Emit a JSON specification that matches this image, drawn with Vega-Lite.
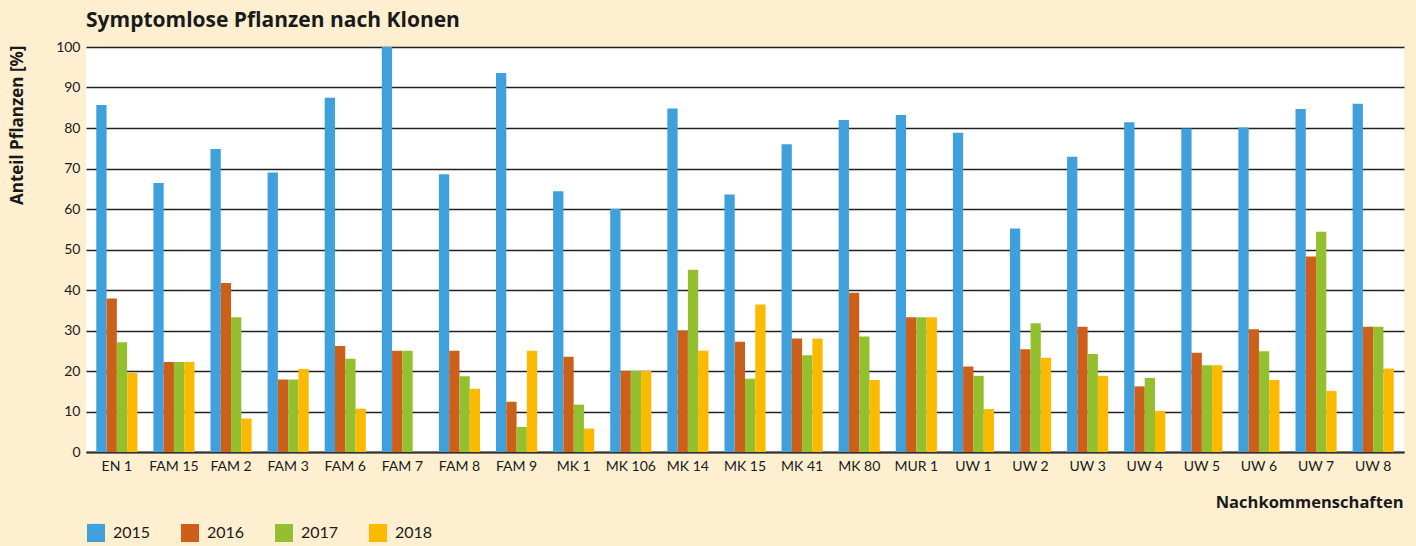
{
  "$schema": "https://vega.github.io/schema/vega-lite/v6.json",
  "autosize": "none",
  "padding": {"left": 86, "top": 47, "right": 12, "bottom": 94},
  "width": 1318,
  "height": 405,
  "background": "#fdefd0",
  "view": {"fill": "white", "stroke": null},
  "title": {"text": "Symptomlose Pflanzen nach Klonen", "anchor": "start", "frame": "group", "font": "Open Sans", "fontSize": 21, "fontWeight": "bold", "color": "#1a1a1a", "offset": 9},
  "config": {"font": "Lato"},
  "data": {"values": [
    {"k": "EN 1", "year": "2015", "v": 85.7}, {"k": "EN 1", "year": "2016", "v": 37.9}, {"k": "EN 1", "year": "2017", "v": 27.1}, {"k": "EN 1", "year": "2018", "v": 19.5},
    {"k": "FAM 15", "year": "2015", "v": 66.4}, {"k": "FAM 15", "year": "2016", "v": 22.2}, {"k": "FAM 15", "year": "2017", "v": 22.2}, {"k": "FAM 15", "year": "2018", "v": 22.2},
    {"k": "FAM 2", "year": "2015", "v": 74.8}, {"k": "FAM 2", "year": "2016", "v": 41.7}, {"k": "FAM 2", "year": "2017", "v": 33.3}, {"k": "FAM 2", "year": "2018", "v": 8.3},
    {"k": "FAM 3", "year": "2015", "v": 69.0}, {"k": "FAM 3", "year": "2016", "v": 17.9}, {"k": "FAM 3", "year": "2017", "v": 17.9}, {"k": "FAM 3", "year": "2018", "v": 20.5},
    {"k": "FAM 6", "year": "2015", "v": 87.5}, {"k": "FAM 6", "year": "2016", "v": 26.2}, {"k": "FAM 6", "year": "2017", "v": 23.0}, {"k": "FAM 6", "year": "2018", "v": 10.7},
    {"k": "FAM 7", "year": "2015", "v": 100}, {"k": "FAM 7", "year": "2016", "v": 25.0}, {"k": "FAM 7", "year": "2017", "v": 25.0}, {"k": "FAM 7", "year": "2018", "v": 0},
    {"k": "FAM 8", "year": "2015", "v": 68.6}, {"k": "FAM 8", "year": "2016", "v": 25.0}, {"k": "FAM 8", "year": "2017", "v": 18.7}, {"k": "FAM 8", "year": "2018", "v": 15.6},
    {"k": "FAM 9", "year": "2015", "v": 93.6}, {"k": "FAM 9", "year": "2016", "v": 12.4}, {"k": "FAM 9", "year": "2017", "v": 6.2}, {"k": "FAM 9", "year": "2018", "v": 25.0},
    {"k": "MK 1", "year": "2015", "v": 64.4}, {"k": "MK 1", "year": "2016", "v": 23.5}, {"k": "MK 1", "year": "2017", "v": 11.7}, {"k": "MK 1", "year": "2018", "v": 5.8},
    {"k": "MK 106", "year": "2015", "v": 60.0}, {"k": "MK 106", "year": "2016", "v": 20.0}, {"k": "MK 106", "year": "2017", "v": 20.0}, {"k": "MK 106", "year": "2018", "v": 20.0},
    {"k": "MK 14", "year": "2015", "v": 84.8}, {"k": "MK 14", "year": "2016", "v": 30.0}, {"k": "MK 14", "year": "2017", "v": 45.0}, {"k": "MK 14", "year": "2018", "v": 25.0},
    {"k": "MK 15", "year": "2015", "v": 63.6}, {"k": "MK 15", "year": "2016", "v": 27.2}, {"k": "MK 15", "year": "2017", "v": 18.1}, {"k": "MK 15", "year": "2018", "v": 36.4},
    {"k": "MK 41", "year": "2015", "v": 76.0}, {"k": "MK 41", "year": "2016", "v": 28.0}, {"k": "MK 41", "year": "2017", "v": 23.9}, {"k": "MK 41", "year": "2018", "v": 28.0},
    {"k": "MK 80", "year": "2015", "v": 82.0}, {"k": "MK 80", "year": "2016", "v": 39.3}, {"k": "MK 80", "year": "2017", "v": 28.5}, {"k": "MK 80", "year": "2018", "v": 17.8},
    {"k": "MUR 1", "year": "2015", "v": 83.2}, {"k": "MUR 1", "year": "2016", "v": 33.3}, {"k": "MUR 1", "year": "2017", "v": 33.3}, {"k": "MUR 1", "year": "2018", "v": 33.3},
    {"k": "UW 1", "year": "2015", "v": 78.8}, {"k": "UW 1", "year": "2016", "v": 21.1}, {"k": "UW 1", "year": "2017", "v": 18.8}, {"k": "UW 1", "year": "2018", "v": 10.6},
    {"k": "UW 2", "year": "2015", "v": 55.2}, {"k": "UW 2", "year": "2016", "v": 25.4}, {"k": "UW 2", "year": "2017", "v": 31.8}, {"k": "UW 2", "year": "2018", "v": 23.3},
    {"k": "UW 3", "year": "2015", "v": 72.9}, {"k": "UW 3", "year": "2016", "v": 30.9}, {"k": "UW 3", "year": "2017", "v": 24.2}, {"k": "UW 3", "year": "2018", "v": 18.8},
    {"k": "UW 4", "year": "2015", "v": 81.4}, {"k": "UW 4", "year": "2016", "v": 16.2}, {"k": "UW 4", "year": "2017", "v": 18.3}, {"k": "UW 4", "year": "2018", "v": 10.1},
    {"k": "UW 5", "year": "2015", "v": 79.9}, {"k": "UW 5", "year": "2016", "v": 24.5}, {"k": "UW 5", "year": "2017", "v": 21.4}, {"k": "UW 5", "year": "2018", "v": 21.4},
    {"k": "UW 6", "year": "2015", "v": 80.1}, {"k": "UW 6", "year": "2016", "v": 30.3}, {"k": "UW 6", "year": "2017", "v": 24.9}, {"k": "UW 6", "year": "2018", "v": 17.8},
    {"k": "UW 7", "year": "2015", "v": 84.7}, {"k": "UW 7", "year": "2016", "v": 48.3}, {"k": "UW 7", "year": "2017", "v": 54.4}, {"k": "UW 7", "year": "2018", "v": 15.1},
    {"k": "UW 8", "year": "2015", "v": 86.0}, {"k": "UW 8", "year": "2016", "v": 30.9}, {"k": "UW 8", "year": "2017", "v": 30.9}, {"k": "UW 8", "year": "2018", "v": 20.6}
  ]},
  "mark": {"type": "bar"},
  "encoding": {
    "x": {"field": "k", "type": "nominal", "sort": null,
      "scale": {"paddingInner": 0.28, "paddingOuter": 0.18},
      "axis": {"title": "Nachkommenschaften", "labelAngle": 0, "labelFontSize": 14, "labelColor": "#1a1a1a", "labelPadding": 7, "ticks": false,
        "domainColor": "#333333", "domainWidth": 2,
        "titleFont": "Open Sans", "titleFontSize": 16.5, "titleFontWeight": "bold", "titleColor": "#1a1a1a", "titleAlign": "right", "titleAnchor": null, "titleX": 1317, "titleY": 55, "titleBaseline": "alphabetic"}},
    "xOffset": {"field": "year", "type": "nominal", "scale": {"paddingInner": 0, "paddingOuter": 0}},
    "y": {"field": "v", "type": "quantitative",
      "scale": {"domain": [0, 100], "nice": false},
      "axis": {"title": "Anteil Pflanzen [%]", "values": [0, 10, 20, 30, 40, 50, 60, 70, 80, 90, 100], "labelFontSize": 14, "labelColor": "#1a1a1a", "labelPadding": 6, "ticks": false, "domain": false,
        "grid": true, "gridColor": "#222222", "gridWidth": 1.5,
        "titleFont": "Open Sans", "titleFontSize": 17, "titleFontWeight": "bold", "titleColor": "#1a1a1a", "titleAngle": -90, "titleAlign": "right", "titleBaseline": "bottom", "titleX": -60, "titleY": -2}},
    "color": {"field": "year", "type": "nominal",
      "scale": {"domain": ["2015", "2016", "2017", "2018"], "range": ["#3fa0dc", "#cc5f1a", "#94c02f", "#fbb900"]},
      "legend": {"title": null, "orient": "none", "legendX": 1, "legendY": 477, "direction": "horizontal", "symbolType": "square", "symbolSize": 324, "symbolStrokeWidth": 0, "symbolOpacity": 1, "labelFontSize": 16, "labelColor": "#1a1a1a", "labelOffset": 8, "columnPadding": 30}}
  }
}
